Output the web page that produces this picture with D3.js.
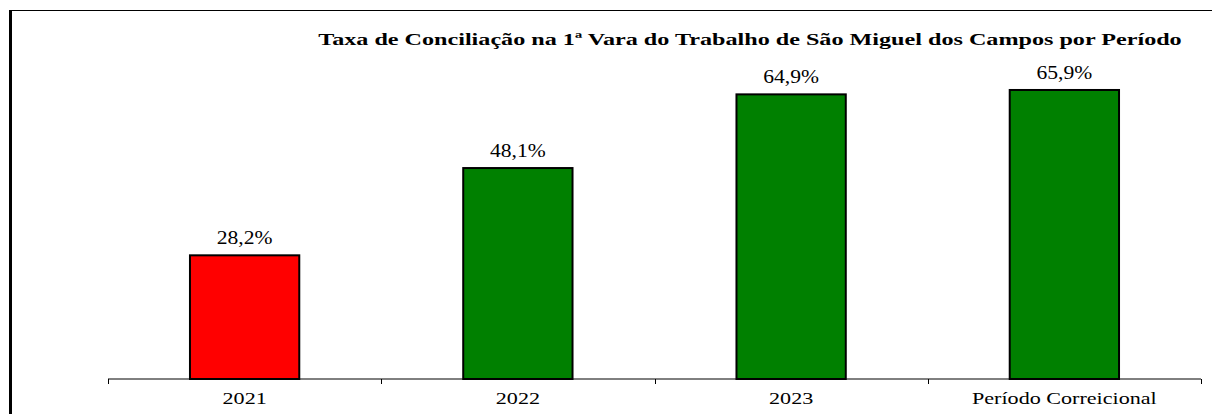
<!DOCTYPE html>
<html>
<head>
<meta charset="utf-8">
<script src="https://cdn.jsdelivr.net/npm/d3@7"></script>
<style>
  body { margin: 0; background: #fff; }
  text { font-family: "Liberation Serif", "Times New Roman", serif; }
</style>
</head>
<body>
<div id="chart"></div>
<script>
// Data
const categories = ["2021", "2022", "2023", "Período Correicional"];
const rates = [28.2, 48.1, 64.9, 65.9];
const barColors = ["#ff0000", "#008000", "#008000", "#008000"];
const valueLabels = ["28,2%", "48,1%", "64,9%", "65,9%"];

const width = 1212, height = 414;
const margin = { top: 72, bottom: 35, left: 108, right: 11 };

// the source image is horizontally stretched, so widen text a bit
function stretch(sel, k) {
    sel.each(function() {
        const w = this.getComputedTextLength();
        d3.select(this)
            .attr("textLength", w * k)
            .attr("lengthAdjust", "spacingAndGlyphs");
    });
}

const svg = d3.select("#chart")
    .append("svg")
    .attr("width", width)
    .attr("height", height)
    .style("background", "#fff");

// frame lines (top + thick left)
svg.append("line")
    .attr("x1", 10).attr("x2", width)
    .attr("y1", 10.5).attr("y2", 10.5)
    .attr("stroke", "#000").attr("stroke-width", 1);
svg.append("line")
    .attr("x1", 10.5).attr("x2", 10.5)
    .attr("y1", 10).attr("y2", height)
    .attr("stroke", "#000").attr("stroke-width", 3);

// Scales
const xScale = d3.scaleBand()
    .domain(categories)
    .range([margin.left, width - margin.right]);

const yScale = d3.scaleLinear()
    .domain([0, 70])
    .range([height - margin.bottom, margin.top]);

const barW = xScale.bandwidth() * 0.4;

// x axis
const xAxis = svg.append("g")
    .attr("transform", `translate(0,${height - margin.bottom})`)
    .call(d3.axisBottom(xScale).tickSize(0).tickPadding(13));
xAxis.select(".domain").attr("stroke", "#000").attr("d",
    `M${margin.left},0H${width - margin.right}`);
xAxis.selectAll("text")
    .style("font-family", "Liberation Serif, serif")
    .style("font-size", "17px")
    .attr("fill", "#000")
    .call(stretch, 1.3);

// tick marks at band boundaries
const bounds = categories.map(c => xScale(c)).concat([width - margin.right]);
xAxis.selectAll(".bound")
    .data(bounds)
    .enter()
    .append("line")
    .attr("x1", d => Math.round(d) + 0.5)
    .attr("x2", d => Math.round(d) + 0.5)
    .attr("y1", 0).attr("y2", 5)
    .attr("stroke", "#000");

// Title
svg.append("text")
    .attr("x", 750)
    .attr("y", 45)
    .style("text-anchor", "middle")
    .style("font-size", "17px")
    .style("font-weight", "bold")
    .text("Taxa de Conciliação na 1ª Vara do Trabalho de São Miguel dos Campos por Período")
    .call(stretch, 1.42);

// Bars
svg.selectAll("rect.bar")
    .data(rates)
    .enter()
    .append("rect")
    .attr("class", "bar")
    .attr("x", (d, i) => xScale(categories[i]) + (xScale.bandwidth() - barW) / 2)
    .attr("y", d => yScale(d))
    .attr("width", barW)
    .attr("height", d => yScale(0) - yScale(d))
    .attr("fill", (d, i) => barColors[i])
    .attr("stroke", "#000")
    .attr("stroke-width", 2);

// Value labels
svg.selectAll("text.val")
    .data(rates)
    .enter()
    .append("text")
    .attr("class", "val")
    .attr("x", (d, i) => xScale(categories[i]) + xScale.bandwidth() / 2)
    .attr("y", d => yScale(d) - 11)
    .style("text-anchor", "middle")
    .style("font-size", "18px")
    .text((d, i) => valueLabels[i])
    .call(stretch, 1.2);
</script>
</body>
</html>
